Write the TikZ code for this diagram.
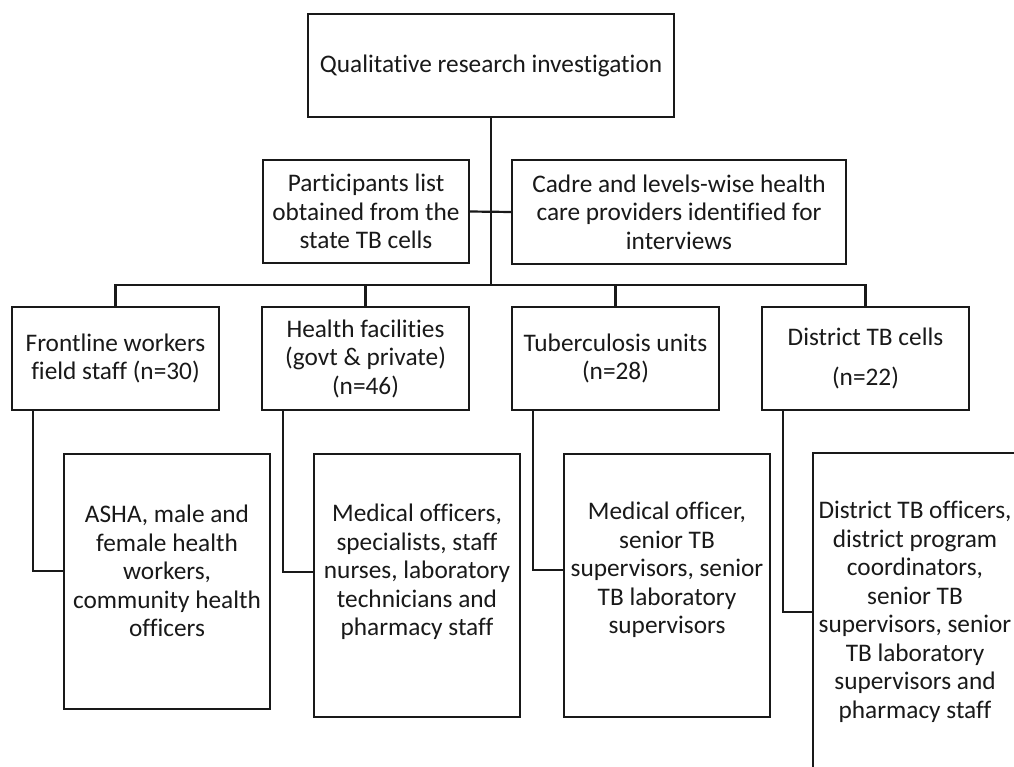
\documentclass[tikz,border=0pt]{standalone}
\usepackage{fontspec}
\setmainfont{Carlito}[Ligatures={NoCommon}]
\begin{document}
\begin{tikzpicture}[x=1pt,y=-1pt,
  box/.style={draw=black!90, line width=2.2pt, inner sep=0pt, outer sep=0pt, fill=white},
  txt/.style={font=\fontsize{25.3}{28.5}\selectfont, align=center, inner sep=0pt, text=black!90},
  conn/.style={draw=black!90, line width=2.2pt}]
\useasboundingbox (0,0) rectangle (1014,767);
\fill[white] (0,0) rectangle (1014,767);
\clip (0,0) rectangle (1014,767);

% top
\node[box, txt, minimum width=366pt, minimum height=103pt] (top) at (491,65.5) {Qualitative research investigation};
% middle
\node[box, txt, minimum width=206pt, minimum height=103pt] (part) at (366,211.5) {Participants list\\obtained from the\\state TB cells};
\node[box, txt, minimum width=334pt, minimum height=104pt] (cadre) at (679,212) {Cadre and levels-wise health\\care providers identified for\\interviews};
% categories
\node[box, txt, minimum width=207pt, minimum height=103pt] (front) at (115.5,358.5) {Frontline workers\\field staff (n=30)};
\node[box, txt, minimum width=207pt, minimum height=103pt] (health) at (365.5,358.5) {Health facilities\\(govt \& private)\\(n=46)};
\node[box, txt, minimum width=207pt, minimum height=103pt] (tbu) at (615.5,358.5) {Tuberculosis units\\(n=28)};
\node[box, txt, minimum width=207pt, minimum height=103pt] (dist) at (865.5,358.5) {District TB cells\\[11.5pt](n=22)};
% detail boxes
\node[box, minimum width=206pt, minimum height=255pt] (asha) at (167,581.5) {};
\node[txt] (ashat) at (167,571) {ASHA, male and\\female health\\workers,\\community health\\officers};
\node[box, minimum width=206pt, minimum height=263pt] (med) at (417,585.5) {};
\node[txt] (medt) at (417,572) {Medical officers,\\specialists, staff\\nurses, laboratory\\technicians and\\pharmacy staff};
\node[box, minimum width=206pt, minimum height=263pt] (mo) at (667,585.5) {};
\node[txt] (mot) at (667,570) {Medical officer,\\senior TB\\supervisors, senior\\TB laboratory\\supervisors};
\node[box, minimum width=207pt, minimum height=360pt] (dto) at (916.5,633) {};
\node[txt] (dtot) at (915,612) {District TB officers,\\district program\\coordinators,\hspace*{44pt}\\senior TB\\supervisors, senior\\TB laboratory\\supervisors and\\pharmacy staff};

% connectors
\coordinate (bus) at (491,285);
\draw[conn] (top.south) -- (bus);
\draw[conn] (part.east) -- (cadre.west);
\draw[conn] (front.north) |- (bus) -| (dist.north);
\draw[conn] (health.north) -- (health.north |- bus);
\draw[conn] (tbu.north) -- (tbu.north |- bus);
\draw[conn] ([xshift=21pt]front.south west) |- (asha.west |- ashat.center);
\draw[conn] ([xshift=21pt]health.south west) |- (med.west |- medt.center);
\draw[conn] ([xshift=21pt]tbu.south west) |- (mo.west |- mot.center);
\draw[conn] ([xshift=21pt]dist.south west) |- (dto.west |- dtot.center);
\end{tikzpicture}
\end{document}
